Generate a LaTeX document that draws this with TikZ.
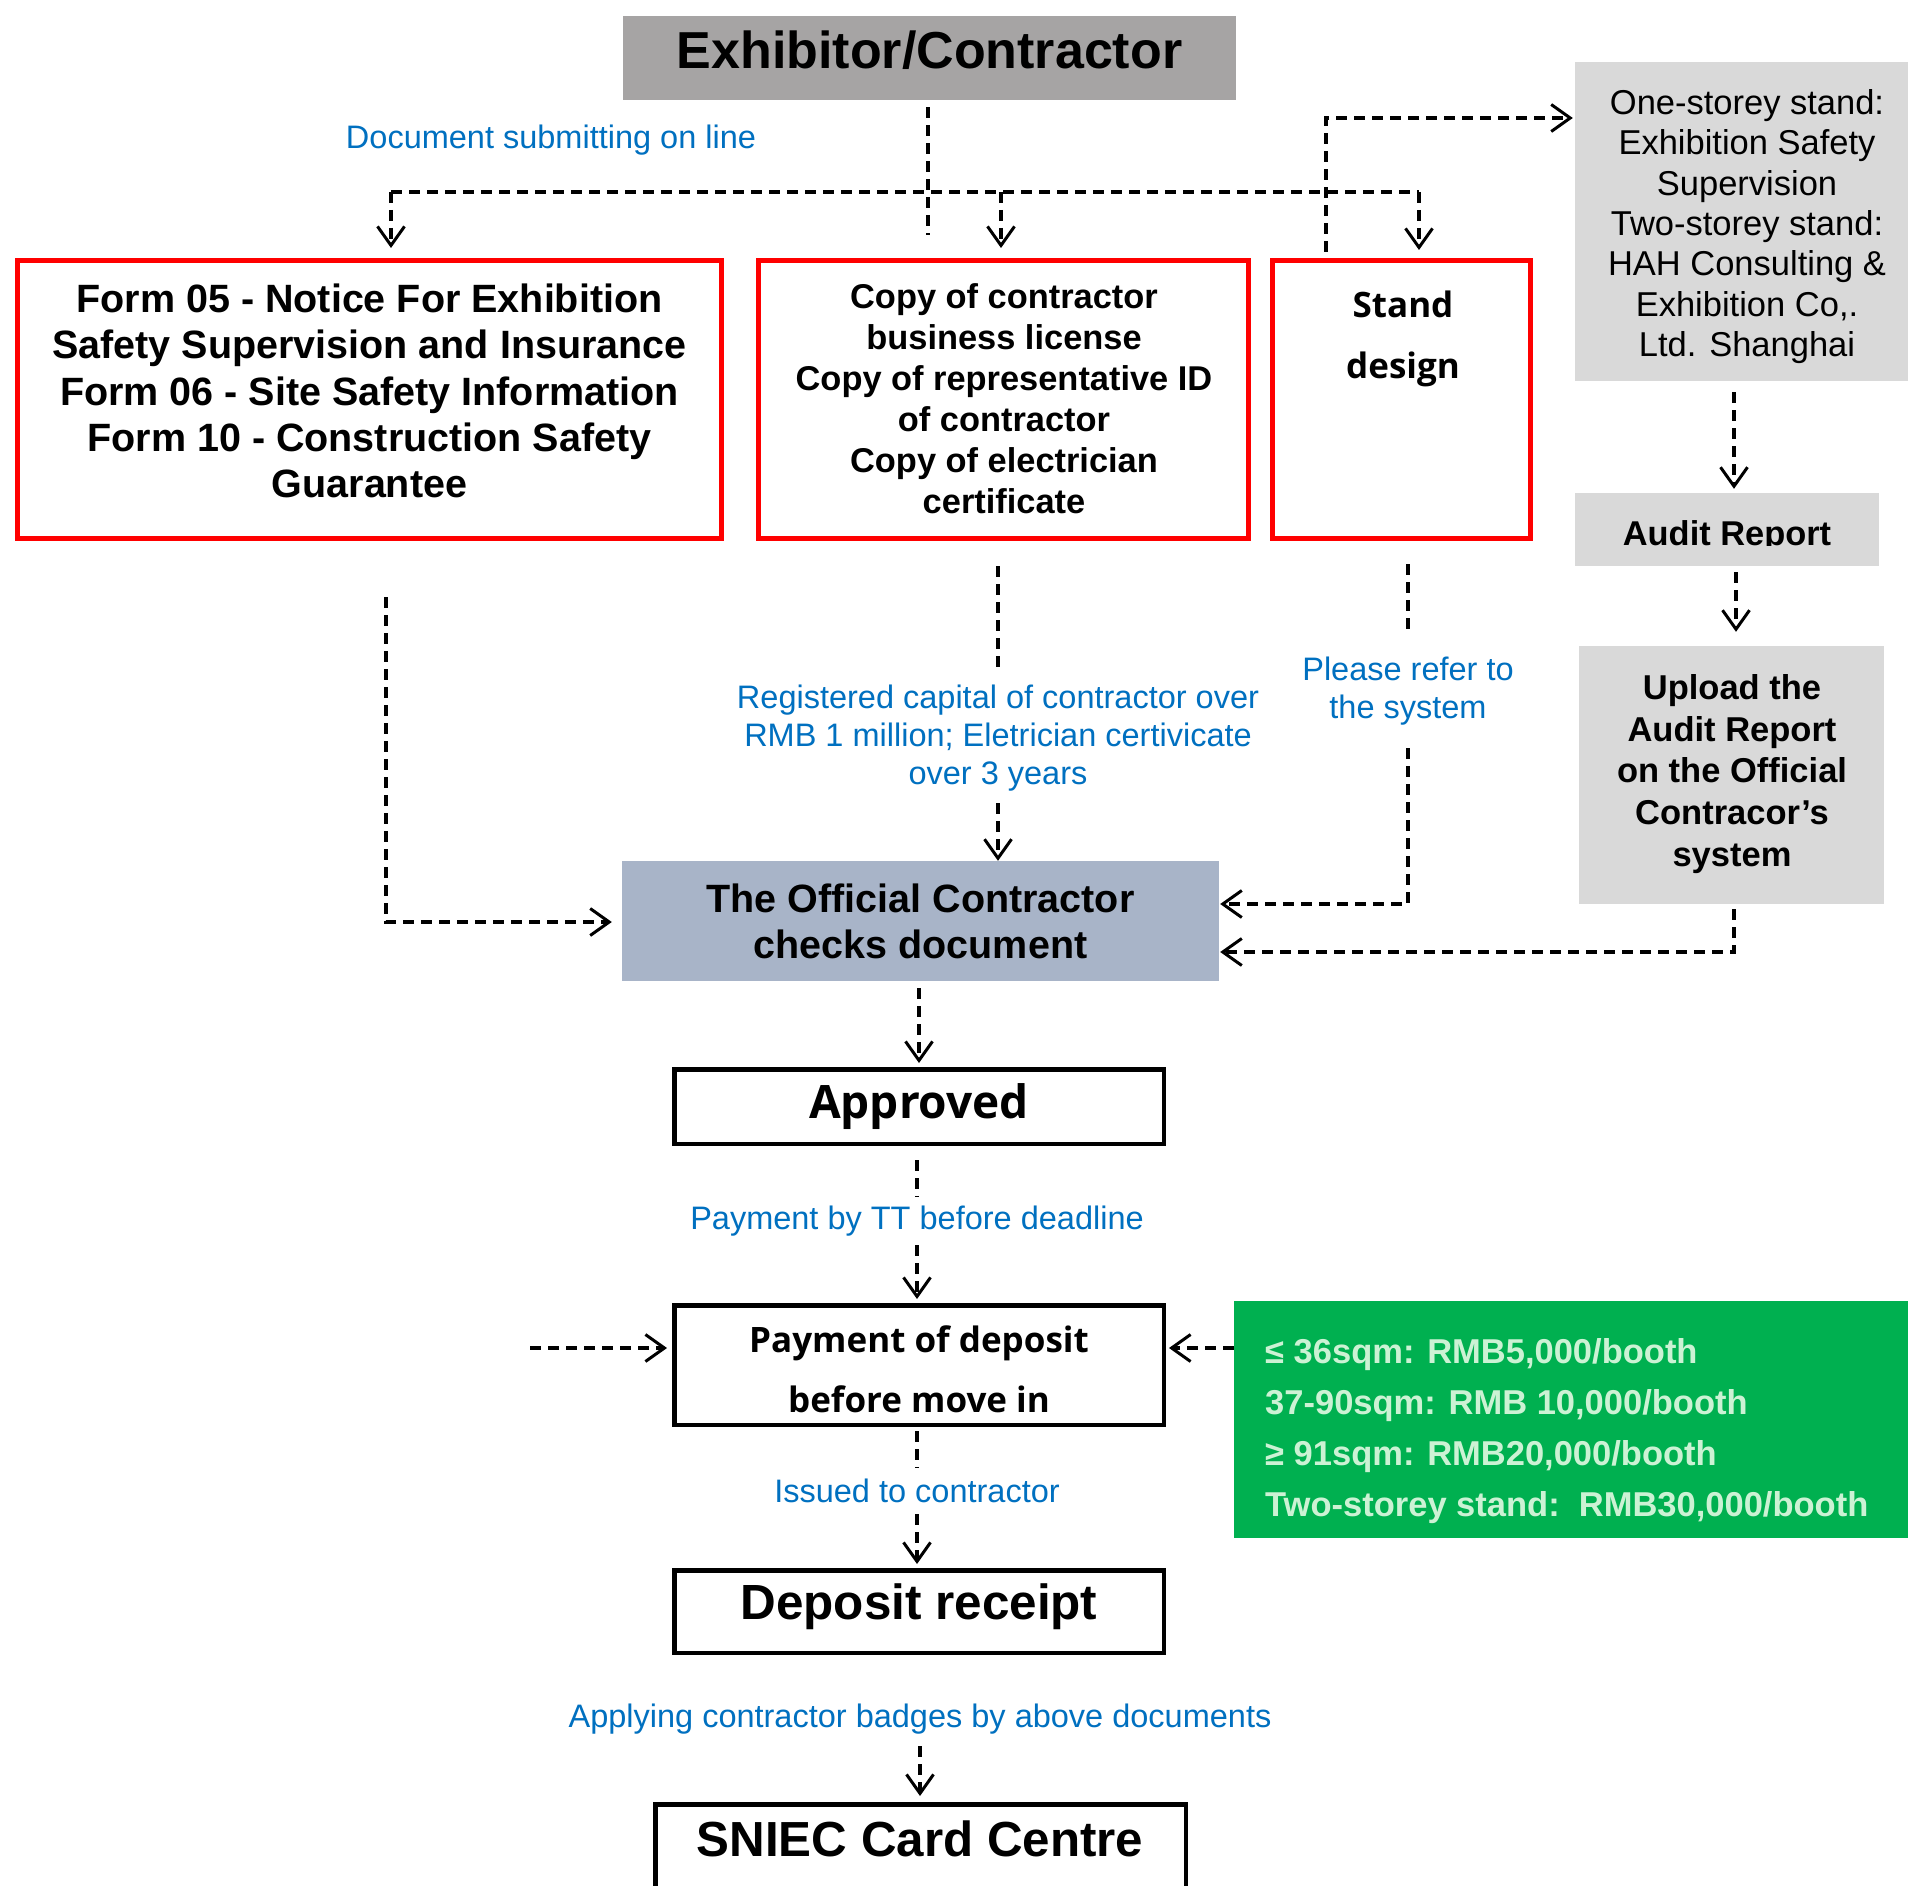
\documentclass[tikz,border=0pt]{standalone}
\usepackage{fontspec}
\setmainfont{Liberation Sans}
\newfontfamily\yh{Open Sans}
\usetikzlibrary{arrows.meta}
\definecolor{exgray}{RGB}{166,164,164}
\definecolor{lgray}{RGB}{217,217,217}
\definecolor{ocblue}{RGB}{168,180,200}
\definecolor{ggreen}{RGB}{0,176,80}
\definecolor{gtext}{RGB}{204,242,212}
\definecolor{lblue}{RGB}{0,112,192}
\tikzset{
  dl/.style={line width=3.4pt, dash pattern=on 11pt off 7pt},
  arr/.style={dl, -{Straight Barb[length=19pt,width=27pt,line width=3pt]}},
  redbox/.style={draw=red, line width=5pt, inner sep=0pt},
  blkbox/.style={draw=black, line width=4.5pt, inner sep=0pt},
  fillbox/.style={inner sep=0pt},
  lbl/.style={text=lblue, font=\fontsize{32.5}{38}\selectfont, align=center, inner xsep=2pt},
}
\begin{document}
\begin{tikzpicture}[x=1pt,y=-1pt]
\clip (0,0) rectangle (1908,1886);
\fill[white] (0,0) rectangle (1908,1886);

% boxes
\node[fillbox, fill=exgray, minimum width=613pt, minimum height=84pt] (ex) at (929.5,58) {};
\node[font=\bfseries\fontsize{52}{60}\selectfont, inner sep=0pt] (ext) at (929.5,50) {Exhibitor/Contractor};
\node[lbl] (dsub) at (551,140) {Document submitting on line};

\node[redbox, minimum width=704pt, minimum height=278pt] (b1) at (369.5,399.5) {};
\node[font=\bfseries\fontsize{39.5}{46.3}\selectfont, align=center, inner sep=0pt] (b1t) at (369.5,391)
  {Form 05 - Notice For Exhibition\\Safety Supervision and Insurance\\Form 06 - Site Safety Information\\Form 10 - Construction Safety\\Guarantee};

\node[redbox, minimum width=490pt, minimum height=278pt] (b2) at (1003.5,399.5) {};
\node[font=\bfseries\fontsize{34.4}{41}\selectfont, align=center, inner sep=0pt] (b2t) at (1004,398.5)
  {Copy of contractor\\business license\\Copy of representative ID\\of contractor\\Copy of electrician\\certificate};

\node[redbox, minimum width=258pt, minimum height=278pt] (b3) at (1401.5,399.5) {};
\node[font=\yh\bfseries\fontsize{35}{61}\selectfont, align=center, inner sep=0pt] (b3t) at (1403,339) {Stand\\design};

\node[fillbox, fill=lgray, minimum width=343pt, minimum height=319pt] (gr) at (1746.5,221.5) {};
\node[font=\fontsize{34.5}{40.3}\selectfont, align=center, inner sep=0pt] (grt) at (1747,226.5)
  {One-storey stand:\\Exhibition Safety\\Supervision\\Two-storey stand:\\HAH Consulting \&\\Exhibition Co,.\\Ltd. Shanghai};

\node[fillbox, fill=lgray, minimum width=304pt, minimum height=73pt] (au) at (1727,529.5) {};
\begin{scope}
  \clip (1575,493) rectangle (1879,545);
  \node[font=\bfseries\fontsize{34.4}{40}\selectfont, inner sep=0pt, anchor=base] (aut) at (1727,545) {Audit Report};
\end{scope}

\node[fillbox, fill=lgray, minimum width=305pt, minimum height=258pt] (up) at (1731.5,775) {};
\node[font=\bfseries\fontsize{34.5}{41.7}\selectfont, align=center, inner sep=0pt] (upt) at (1732,774)
  {Upload the\\Audit Report\\on the Official\\Contracor’s\\system};

\node[fillbox, fill=ocblue, minimum width=597pt, minimum height=120pt, font=\bfseries\fontsize{39.5}{46}\selectfont, align=center] (oc) at (920.5,921)
  {The Official Contractor\\checks document};

\node[blkbox, minimum width=489.5pt, minimum height=74.5pt, font=\yh\bfseries\fontsize{46}{50}\selectfont] (ap) at (919,1106.5) {Approved};

\node[blkbox, minimum width=489.5pt, minimum height=119.5pt] (pay) at (919,1365) {};
\node[font=\yh\bfseries\fontsize{35}{60}\selectfont, align=center, inner sep=0pt] (payt) at (919,1369)
  {Payment of deposit\\before move in};

\node[fillbox, fill=ggreen, minimum width=684pt, minimum height=237pt] (gn) at (1576,1419.5) {};
\node[font=\bfseries\fontsize{34.5}{51}\selectfont, text=gtext, align=left, inner sep=0pt, anchor=west] (gnt) at (1265,1431)
  {≤ 36sqm: RMB5,000/booth\\37-90sqm: RMB 10,000/booth\\≥ 91sqm: RMB20,000/booth\\Two-storey stand:\ \ RMB30,000/booth};

\node[blkbox, minimum width=489.5pt, minimum height=82.5pt] (dr) at (919,1611.5) {};
\node[font=\bfseries\fontsize{49.4}{55}\selectfont, inner sep=0pt] (drt) at (919,1607) {Deposit receipt};

\node[blkbox, minimum width=530.5pt, minimum height=100pt] (sn) at (920.5,1854.25) {};
\node[font=\bfseries\fontsize{49.3}{55}\selectfont, inner sep=0pt] (snt) at (920,1839) {SNIEC Card Centre};

% labels
\node[lbl, inner ysep=12pt] (rc) at (998,738) {Registered capital of contractor over\\RMB 1 million; Eletrician certivicate\\over 3 years};
\node[lbl, inner ysep=23pt] (pr) at (1408,691) {Please refer to\\the system};
\node[lbl, inner ysep=9pt] (tt) at (917,1221) {Payment by TT before deadline};
\node[lbl, inner ysep=11pt] (iss) at (917,1491) {Issued to contractor};
\node[lbl, inner ysep=12pt] (apl) at (920,1719) {Applying contractor badges by above documents};

% helper coordinates
\coordinate (stub) at (928,235);
\coordinate (jL) at (391,192);
\coordinate (jM) at (1001,192);
\coordinate (jR) at (1419,192);
\coordinate (k1) at (1326,118);
\coordinate (xa) at (1734,0);
\coordinate (xb) at (1736,0);
\coordinate (y952) at (0,952);
\coordinate (y904) at (0,904);
\coordinate (x386) at (386,0);
\coordinate (y922) at (0,922);
\coordinate (lin) at (530,1348);

% connectors
\draw[dl, shorten <=7pt] (ex.south -| stub) -- (stub);
\draw[dl] (jL) -- (jR);
\draw[arr, shorten >=10pt] (jL) -- (b1.north -| jL);
\draw[arr, shorten >=10pt] (jM) -- (b2.north -| jM);
\draw[arr, shorten >=8pt] (jR) -- (b3.north -| jR);
\draw[arr, shorten <=6pt, shorten >=2pt] (b3.north -| k1) |- (gr.west |- k1);
\draw[arr, shorten <=11pt, shorten >=4pt] (gr.south -| xa) -- (au.north -| xa);
\draw[arr, shorten <=6pt, shorten >=14pt] (au.south -| xb) -- (up.north -| xb);
\draw[arr, shorten <=5pt, shorten >=1pt] (up.south -| xa) |- (oc.east |- y952);
\draw[dl, shorten <=23pt] (b3.south -| pr) -- (pr.north);
\draw[arr, shorten >=1pt] (pr.south) |- (oc.east |- y904);
\draw[dl, shorten <=25pt] (b2.south -| rc) -- (rc.north);
\draw[arr] (rc.south) -- (oc.north -| rc);
\draw[arr, shorten <=56pt, shorten >=10pt] (b1.south -| x386) |- (oc.west |- y922);
\draw[arr, shorten <=7pt, shorten >=4pt] (oc.south -| ap.north) -- (ap.north);
\draw[dl, shorten <=14pt] (ap.south -| tt) -- (tt.north);
\draw[arr, shorten >=4pt] (tt.south) -- (pay.north -| tt);
\draw[arr, shorten >=5pt] (lin) -- (pay.west |- lin);
\draw[arr, shorten >=3pt] (gn.west |- lin) -- (pay.east |- lin);
\draw[dl, shorten <=4pt] (pay.south -| iss) -- (iss.north);
\draw[arr, shorten >=4pt] (iss.south) -- (dr.north -| iss);
\draw[arr, shorten >=6pt] (apl.south) -- (sn.north -| apl);
\end{tikzpicture}
\end{document}
